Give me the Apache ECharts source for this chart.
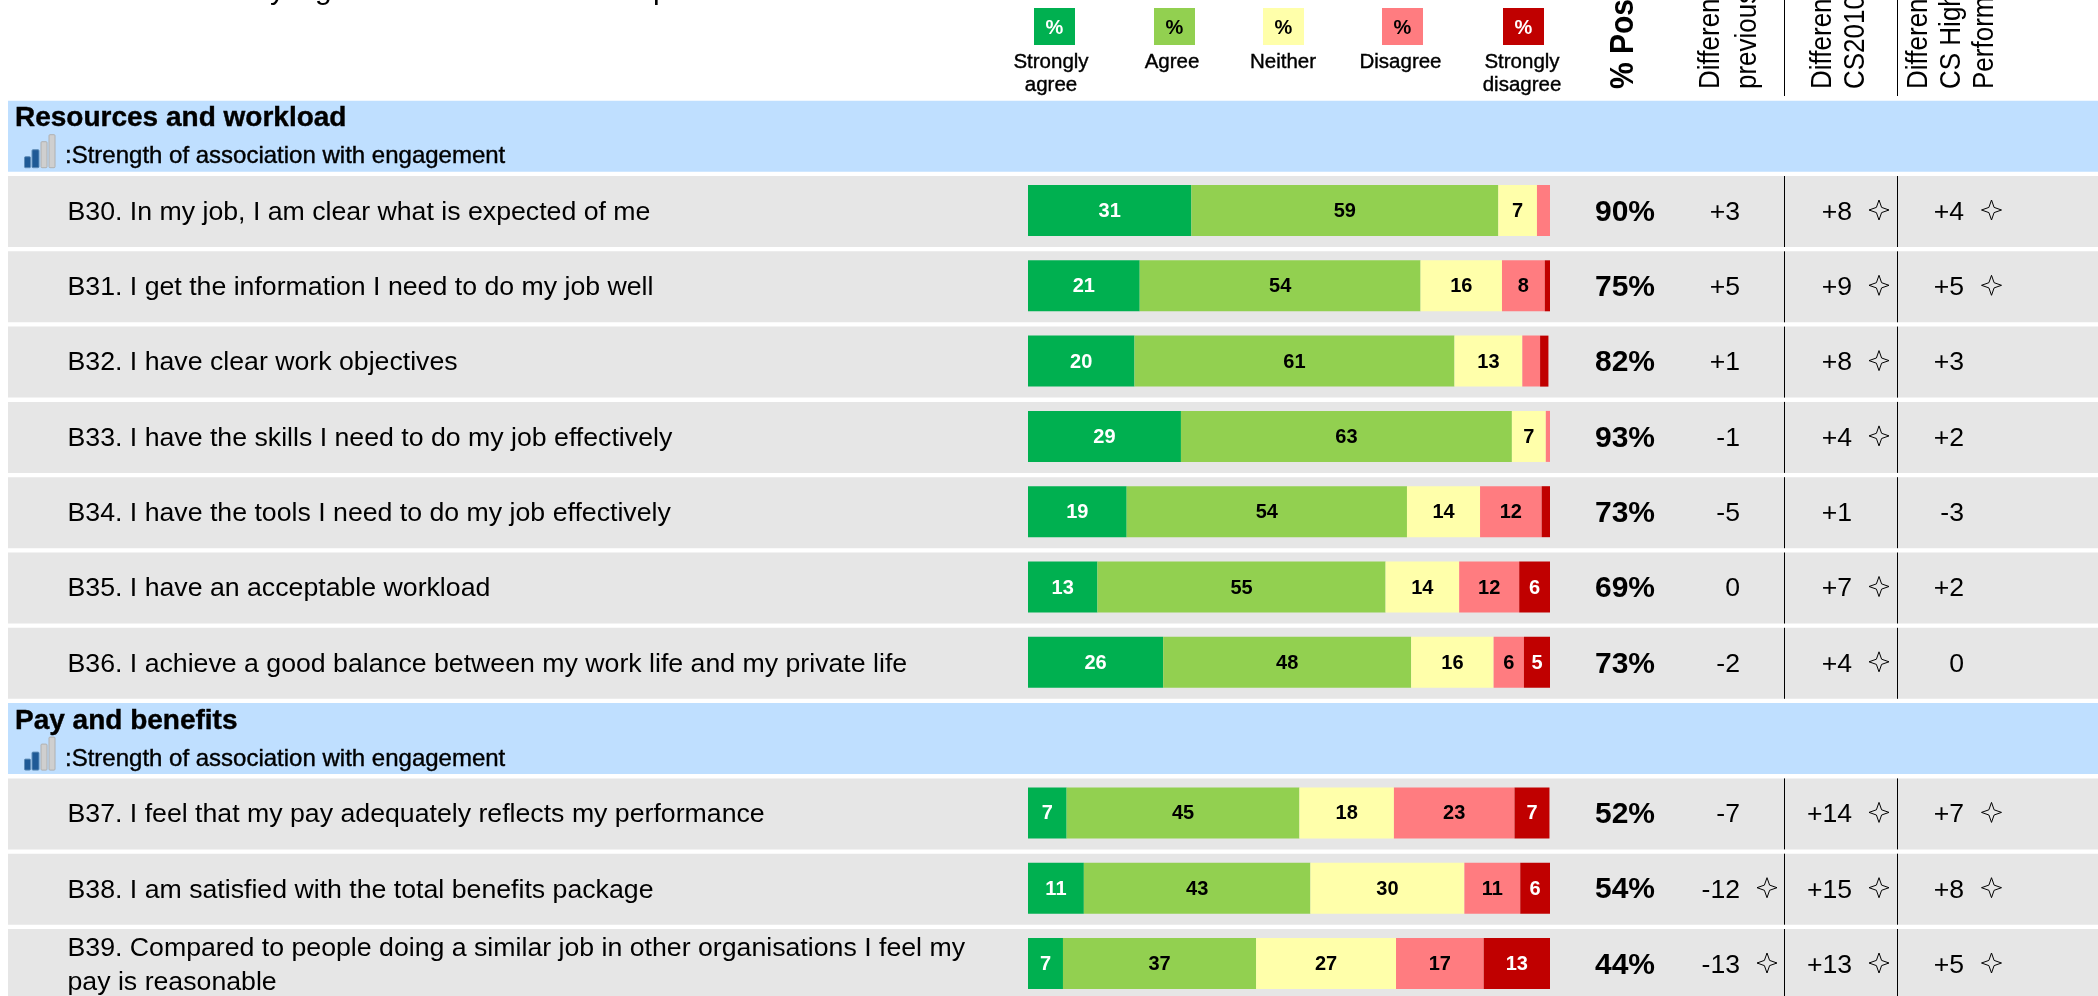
<!DOCTYPE html>
<html>
<head>
<meta charset="utf-8">
<title>Resources and workload, Pay and benefits</title>
<script src="https://cdn.jsdelivr.net/npm/echarts@6/dist/echarts.min.js"></script>
<style>
  html, body { margin: 0; padding: 0; background: #fff; overflow: hidden; }
  #chart { width: 2098px; height: 996px; }
</style>
</head>
<body>
<div id="chart"></div>
<script>
// data, section rows have null values
const categories = [
  "Resources and workload",
  "B30. In my job, I am clear what is expected of me",
  "B31. I get the information I need to do my job well",
  "B32. I have clear work objectives",
  "B33. I have the skills I need to do my job effectively",
  "B34. I have the tools I need to do my job effectively",
  "B35. I have an acceptable workload",
  "B36. I achieve a good balance between my work life and my private life",
  "Pay and benefits",
  "B37. I feel that my pay adequately reflects my performance",
  "B38. I am satisfied with the total benefits package",
  "B39. Compared to people doing a similar job in other organisations I feel my\npay is reasonable"
];
const stronglyAgree = [null, 31.3, 21.4, 20.4, 29.3, 18.9, 13.3, 25.9, null, 7.4, 10.7, 6.7];
const agree = [null, 58.8, 53.8, 61.3, 63.4, 53.7, 55.2, 47.5, null, 44.6, 43.4, 37];
const neither = [null, 7.4, 15.6, 13, 6.5, 14, 14.1, 15.8, null, 18.1, 29.5, 26.8];
const disagree = [null, 2.5, 8.2, 3.4, 0.8, 11.8, 11.5, 5.8, null, 23.1, 10.7, 16.8];
const stronglyDisagree = [null, 0, 1, 1.6, 0, 1.6, 5.9, 5.1, null, 6.7, 5.7, 12.7];

const posPct = [null, "90%", "75%", "82%", "93%", "73%", "69%", "73%", null, "52%", "54%", "44%"];
const diffPrev = [null, "+3", "+5", "+1", "-1", "-5", "0", "-2", null, "-7", "-12", "-13"];
const diffCS = [null, "+8", "+9", "+8", "+4", "+1", "+7", "+4", null, "+14", "+15", "+13"];
const diffHigh = [null, "+4", "+5", "+3", "+2", "-3", "+2", "0", null, "+7", "+8", "+5"];
const sigPrev = [0, 0, 0, 0, 0, 0, 0, 0, 0, 0, 1, 1];
const sigCS = [0, 1, 1, 1, 1, 0, 1, 1, 0, 1, 1, 1];
const sigHigh = [0, 1, 1, 0, 0, 0, 0, 0, 0, 1, 1, 1];

const sectionNote = ":Strength of association with engagement";
const legendNames = ["Strongly\nagree", "Agree", "Neither", "Disagree", "Strongly\ndisagree"];
const colors = ["#00B050", "#92D050", "#FFFFAA", "#FF7C80", "#C00000"];
const labelColors = ["#fff", "#000", "#000", "#000", "#fff"];
const responseSeries = [stronglyAgree, agree, neither, disagree, stronglyDisagree];
const headers = [
  ["% Pos", 1624, true],
  ["Difference from", 1711.5, false],
  ["previous survey", 1748.5, false],
  ["Difference from", 1823.5, false],
  ["CS2010", 1856.5, false],
  ["Difference from", 1919.5, false],
  ["CS High", 1952.5, false],
  ["Performers", 1985.5, false]
];
// tails of the title line, the rest of it is cut off by the top edge
const titleTails = [["y", 270], ["g", 315], ["p", 653]];

const font = "'Liberation Sans', Arial, sans-serif";
const isSection = i => posPct[i] === null;

const chart = echarts.init(document.getElementById("chart"));

function text(x, y, str, size, opts) {
  return {
    type: "text",
    style: Object.assign({
      x: x, y: y, text: str, fontFamily: font, fontSize: size,
      fill: "#000", align: "left", verticalAlign: "middle"
    }, opts || {})
  };
}

function star(cx, cy) {
  const r = 10, q = 2.6;
  return {
    type: "polygon",
    shape: { points: [
      [cx, cy - r], [cx + q, cy - q], [cx + r, cy], [cx + q, cy + q],
      [cx, cy + r], [cx - q, cy + q], [cx - r, cy], [cx - q, cy - q]
    ] },
    style: { fill: "none", stroke: "#000", lineWidth: 1 }
  };
}

function signalIcon(y, filled) {
  const bars = [[24.5, 6, 11], [32, 7, 18], [41, 6, 26], [49, 6, 33]];
  return bars.map((b, k) => ({
    type: "rect",
    shape: { x: b[0], y: y + 67 - b[2], width: b[1], height: b[2], r: 1 },
    style: {
      fill: k < filled ? "#1F5A96" : "#CFCFCF",
      stroke: k < filled ? "#5F8DB8" : "#B0B0B0",
      lineWidth: 1
    }
  }));
}

// everything that sits on a row apart from the bars
function renderRow(params, api) {
  const i = params.dataIndex;
  const y = api.coord([0, i])[1];
  const top = y - 35.5;
  const kids = [];
  if (isSection(i)) {
    kids.push(text(15, top + 18, categories[i], 28, { fontWeight: "bold", stroke: "#000", lineWidth: 0.4 }));
    kids.push(text(65, top + 56, sectionNote, 24, { stroke: "#000", lineWidth: 0.4 }));
    signalIcon(top, 2).forEach(r => kids.push(r));
    return { type: "group", children: kids };
  }
  kids.push(text(67.5, y + 1, categories[i], 26.7, { lineHeight: 34 }));
  kids.push(text(1625, y + 1, posPct[i], 30, { fontWeight: "bold", align: "center" }));
  kids.push(text(1740, y + 1, diffPrev[i], 26.6, { align: "right" }));
  kids.push(text(1852, y + 1, diffCS[i], 26.6, { align: "right" }));
  kids.push(text(1964, y + 1, diffHigh[i], 26.6, { align: "right" }));
  if (sigPrev[i]) kids.push(star(1767, y - 1.5));
  if (sigCS[i]) kids.push(star(1879, y - 1.5));
  if (sigHigh[i]) kids.push(star(1991.5, y - 1.5));
  [1784.5, 1897.5].forEach(x => {
    kids.push({
      type: "line",
      shape: { x1: x, y1: top, x2: x, y2: top + 71 },
      style: { stroke: "#000", lineWidth: 1 }
    });
  });
  return { type: "group", children: kids };
}

const boxX = [1034, 1154, 1263, 1382, 1503];
const nameX = [1051, 1172, 1283, 1400.5, 1522];
const legendGraphics = [];
legendNames.forEach((name, k) => {
  legendGraphics.push({
    type: "rect",
    shape: { x: boxX[k], y: 8, width: 41, height: 37 },
    style: { fill: colors[k] }
  });
  legendGraphics.push(text(boxX[k] + 20.5, 28, "%", 20, {
    fontWeight: "bold", align: "center", fill: labelColors[k]
  }));
  legendGraphics.push({
    type: "text",
    style: {
      x: nameX[k], y: 51, text: name, fontFamily: font, fontSize: 20.5,
      lineHeight: 23, fill: "#000", stroke: "#000", lineWidth: 0.4,
      align: "center", verticalAlign: "top"
    }
  });
});
const headerGraphics = headers.map(h => ({
  type: "text",
  rotation: Math.PI / 2,
  x: h[1],
  y: 89,
  scaleY: 1.1,
  style: {
    x: 0, y: 0, text: h[0], fontFamily: font,
    fontSize: h[2] ? 30 : 26, fontWeight: h[2] ? "bold" : "normal",
    fill: "#000", align: "left", verticalAlign: "middle"
  }
}));
const dividerGraphics = [1784.5, 1897.5].map(x => ({
  type: "line",
  shape: { x1: x, y1: 0, x2: x, y2: 96 },
  style: { stroke: "#000", lineWidth: 1 }
}));
const tailGraphics = titleTails.map(t => ({
  type: "text",
  style: {
    x: t[1], y: 6, text: t[0], fontFamily: font, fontSize: 30,
    fill: "#000", align: "left", verticalAlign: "bottom"
  }
}));

const responseNames = ["Strongly agree", "Agree", "Neither", "Disagree", "Strongly disagree"];

chart.setOption({
  animation: false,
  grid: [
    { left: 1028, width: 522, top: 97.55, height: 903.6, outerBoundsMode: "none" },
    { left: 8, width: 2090, top: 98.55, height: 903.6, outerBoundsMode: "none" }
  ],
  xAxis: [
    { type: "value", gridIndex: 0, min: 0, max: 100, show: false },
    { type: "value", gridIndex: 1, min: 0, max: 1, show: false }
  ],
  yAxis: [
    { type: "category", gridIndex: 0, data: categories, inverse: true, show: false },
    { type: "category", gridIndex: 1, data: categories, inverse: true, show: false }
  ],
  graphic: legendGraphics.concat(headerGraphics, dividerGraphics, tailGraphics),
  series: [
    {
      name: "band",
      type: "bar",
      xAxisIndex: 1,
      yAxisIndex: 1,
      z: 1,
      barWidth: 71,
      data: categories.map((c, i) => ({
        value: 1,
        itemStyle: { color: isSection(i) ? "#BFDFFF" : "#E6E6E6" }
      }))
    },
    {
      name: "rows",
      type: "custom",
      xAxisIndex: 1,
      yAxisIndex: 1,
      z: 2,
      clip: false,
      renderItem: renderRow,
      encode: { x: 0, y: 1 },
      data: categories.map((c, i) => [0, i])
    }
  ].concat(responseSeries.map((vals, k) => ({
    name: responseNames[k],
    type: "bar",
    stack: "resp",
    xAxisIndex: 0,
    yAxisIndex: 0,
    z: 3,
    barWidth: 51,
    itemStyle: { color: colors[k] },
    label: {
      show: true,
      position: "inside",
      offset: [0, 1],
      fontFamily: font,
      fontSize: 20,
      fontWeight: "bold",
      color: labelColors[k],
      formatter: p => (p.value >= 5 ? Math.round(p.value) : "")
    },
    data: vals
  })))
});
</script>
</body>
</html>
